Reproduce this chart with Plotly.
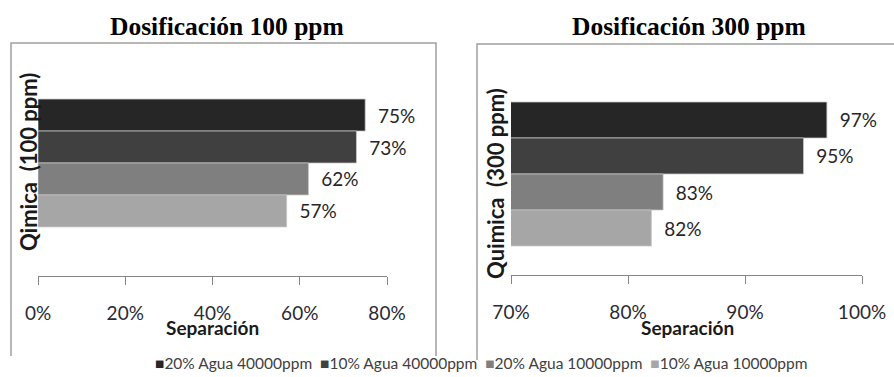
import plotly.graph_objects as go

W, H = 894, 377

# ---- data ----
series = ["20% Agua 40000ppm", "10% Agua 40000ppm", "20% Agua 10000ppm", "10% Agua 10000ppm"]
colors = ["#262626", "#404040", "#7f7f7f", "#a6a6a6"]
cat_100 = "Qimica  (100 ppm)"
cat_300 = "Quimica  (300 ppm)"
sep_100 = [0.75, 0.73, 0.62, 0.57]
sep_300 = [0.97, 0.95, 0.83, 0.82]
ticks_100 = [0, 0.2, 0.4, 0.6, 0.8]
ticks_300 = [0.7, 0.8, 0.9, 1.0]
title_100 = "Dosificación 100 ppm"
title_300 = "Dosificación 300 ppm"
x_title = "Separación"


def px(x):
    return x / W


def py(y):
    return 1 - y / H


LABEL_FONT = dict(family="Lato", size=19, color="#262626")

fig = go.Figure()
for i, (name, c) in enumerate(zip(series, colors)):
    common = dict(
        orientation="h", name=name, legendgroup=name, showlegend=False,
        marker=dict(color=c, line=dict(color="#c8c8c8", width=0.75)),
        texttemplate="\u00a0\u00a0%{x:.0%}", textposition="outside",
        textfont=LABEL_FONT, constraintext="none", cliponaxis=False,
        hoverinfo="skip",
    )
    fig.add_bar(y=[cat_100], x=[sep_100[i]], xaxis="x", yaxis="y", **common)
    fig.add_bar(y=[cat_300], x=[sep_300[i]], xaxis="x2", yaxis="y2", **common)

xcommon = dict(
    showline=True, linecolor="#868686", linewidth=1.2,
    ticks="outside", ticklen=8, tickcolor="#868686", tickwidth=1.2,
    showgrid=False, zeroline=False, tickformat=".0%",
    tickfont=dict(family="Lato", size=19, color="#2a2a35"),
    ticklabelstandoff=12, fixedrange=True, automargin=False,
)
ycommon = dict(
    type="category", showticklabels=False, showline=False, ticks="",
    showgrid=False, zeroline=False, fixedrange=True, automargin=False,
)

fig.update_layout(
    width=W, height=H, autosize=False,
    margin=dict(l=0, r=0, t=0, b=0, autoexpand=False),
    paper_bgcolor="white", plot_bgcolor="white",
    barmode="group", bargap=0.287, bargroupgap=0,
    xaxis=dict(domain=[px(38), px(387)], range=[0, 0.8], tickvals=ticks_100,
               anchor="y", **xcommon),
    yaxis=dict(domain=[py(276), py(50)], range=[0.63, -0.63], anchor="x", **ycommon),
    xaxis2=dict(domain=[px(511), px(862)], range=[0.7, 1.0], tickvals=ticks_300,
                anchor="y2", **xcommon),
    yaxis2=dict(domain=[py(275), py(73)], range=[0.5, -0.5], anchor="x2", **ycommon),
    showlegend=False,
)

ann = []
for t, cx in [(title_100, 227), (title_300, 689)]:
    ann.append(dict(text="<b>%s</b>" % t, x=px(cx), y=py(26), xref="paper", yref="paper",
                    showarrow=False, xanchor="center", yanchor="middle",
                    font=dict(family="Liberation Serif", size=25.5, color="black")))
for cx in [212, 687]:
    ann.append(dict(text="<b>%s</b>" % x_title, x=px(cx), y=py(327), xref="paper",
                    yref="paper", showarrow=False, xanchor="center", yanchor="middle",
                    font=dict(family="Lato", size=19, color="#1a1a1a")))
for cat, cx, cy in [(cat_100, 28, 162), (cat_300, 496, 184)]:
    ann.append(dict(text="<b>%s</b>" % cat.replace("  ", " \u00a0"), x=px(cx), y=py(cy),
                    xref="paper", yref="paper", showarrow=False, textangle=-90,
                    xanchor="center", yanchor="middle",
                    font=dict(family="Lato", size=22, color="#1a1a1a")))
# legend row: coloured squares followed by series names
legend_text = "\u00a0\u00a0".join(
    "<span style='color:%s'>■</span>%s" % (c, n) for n, c in zip(series, colors))
ann.append(dict(text=legend_text, x=px(481), y=py(363), xref="paper", yref="paper",
                showarrow=False, xanchor="center", yanchor="middle",
                font=dict(family="Lato", size=15.5, color="#404040")))
fig.update_layout(annotations=ann)

box = dict(type="path", xref="paper", yref="paper",
           line=dict(color="#a0a0a0", width=1.5), layer="above")
fig.add_shape(path="M %f,%f L %f,%f L %f,%f L %f,%f" % (
    px(11), py(356), px(11), py(43), px(436), py(43), px(436), py(356)), **box)
fig.add_shape(path="M %f,%f L %f,%f L %f,%f" % (
    px(477), py(360), px(477), py(44), px(900), py(44)), **box)

fig.write_html("out.html", config={"displayModeBar": False},
               post_script="document.body.style.margin='0';")
